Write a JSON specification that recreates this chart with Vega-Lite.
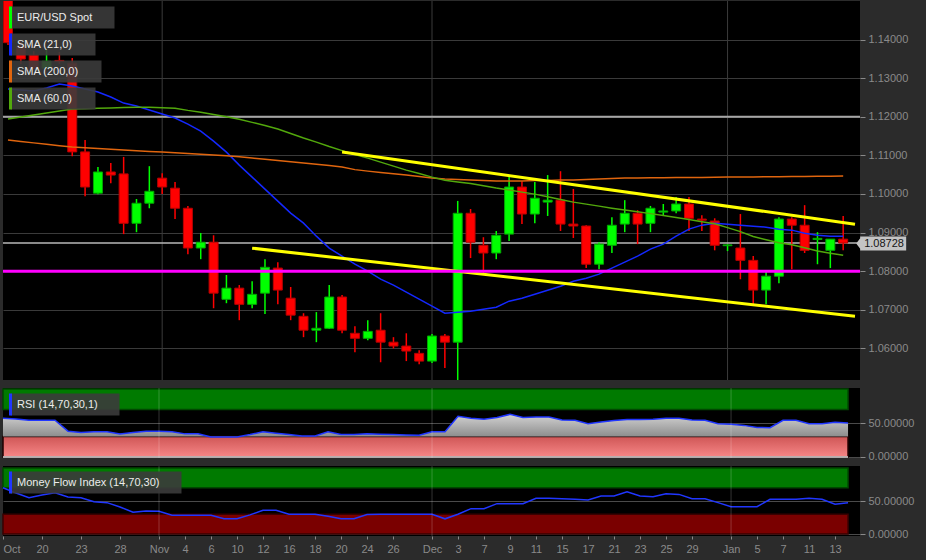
{
  "$schema": "https://vega.github.io/schema/vega-lite/v6.json",
  "background": "#2b2b2b",
  "padding": {"left": 0, "top": 0, "right": 15, "bottom": 7},
  "spacing": 8,
  "bounds": "flush",
  "config": {
    "font": "Liberation Sans",
    "view": {"stroke": null, "fill": "#000000"},
    "axis": {"title": null, "domain": false, "labelFont": "Liberation Sans", "labelFontSize": 11, "labelColor": "#8a8a8a", "tickColor": "#8a8a8a", "tickSize": 5, "labelPadding": 3, "gridColor": "#3a3a3a", "gridWidth": 1},
    "legend": {"orient": "none", "title": null, "padding": 0, "labelFont": "Liberation Sans", "labelFontSize": 11, "labelColor": "#ececec", "labelLimit": 400, "symbolSize": 64, "symbolStrokeWidth": 3, "symbolDash": [22, 3000], "labelOffset": -3, "rowPadding": 2}
  },
  "resolve": {"scale": {"color": "independent", "y": "independent"}, "legend": {"color": "independent"}},
  "datasets": {
    "months": [{"m": "Nov", "i": 12}, {"m": "Dec", "i": 33}, {"m": "Jan", "i": 56}],
    "levels": [{"kind": "resistance", "level": 1.12}, {"kind": "support", "level": 1.08}],
    "trend": [{"line": "upper", "i": 26, "v": 1.11085}, {"line": "upper", "i": 65.92, "v": 1.09218}, {"line": "lower", "i": 19, "v": 1.08596}, {"line": "lower", "i": 65.92, "v": 1.06833}],
    "bands": [{"zone": "over", "lo": 70, "hi": 100, "from": 0, "to": 65}, {"zone": "under", "lo": 0, "hi": 30, "from": 0, "to": 65}],
    "bars": [
      {"i":0,"o":1.1525,"h":1.155,"l":1.1386,"c":1.1392,"SMA (21,0)":1.12718,"SMA (200,0)":1.11396,"SMA (60,0)":1.11941,"rsi":57,"mfi":70},
      {"i":1,"o":1.13833,"h":1.13963,"l":1.13367,"c":1.13496,"SMA (21,0)":1.12692,"SMA (200,0)":1.1136,"SMA (60,0)":1.11992,"rsi":56,"mfi":62},
      {"i":2,"o":1.136,"h":1.137,"l":1.1324,"c":1.1326,"SMA (21,0)":1.12667,"SMA (200,0)":1.11324,"SMA (60,0)":1.12044,"rsi":54,"mfi":55},
      {"i":3,"o":1.1326,"h":1.1376,"l":1.1324,"c":1.1344,"SMA (21,0)":1.12744,"SMA (200,0)":1.11287,"SMA (60,0)":1.12096,"rsi":54,"mfi":59},
      {"i":4,"o":1.1346,"h":1.1368,"l":1.1337,"c":1.1343,"SMA (21,0)":1.12848,"SMA (200,0)":1.11251,"SMA (60,0)":1.12148,"rsi":54,"mfi":62.5},
      {"i":5,"o":1.1339,"h":1.1352,"l":1.1098,"c":1.1109,"SMA (21,0)":1.12796,"SMA (200,0)":1.11215,"SMA (60,0)":1.122,"rsi":38,"mfi":56},
      {"i":6,"o":1.1109,"h":1.114,"l":1.0994,"c":1.1018,"SMA (21,0)":1.12718,"SMA (200,0)":1.11197,"SMA (60,0)":1.12208,"rsi":36,"mfi":55},
      {"i":7,"o":1.1002,"h":1.107,"l":1.0999,"c":1.1057,"SMA (21,0)":1.12641,"SMA (200,0)":1.11178,"SMA (60,0)":1.12218,"rsi":37,"mfi":49},
      {"i":8,"o":1.1057,"h":1.108,"l":1.1028,"c":1.1049,"SMA (21,0)":1.12511,"SMA (200,0)":1.1116,"SMA (60,0)":1.12228,"rsi":37,"mfi":47.5},
      {"i":9,"o":1.1052,"h":1.1096,"l":1.0896,"c":1.0924,"SMA (21,0)":1.12355,"SMA (200,0)":1.1114,"SMA (60,0)":1.12239,"rsi":34,"mfi":41},
      {"i":10,"o":1.0924,"h":1.0987,"l":1.0901,"c":1.0976,"SMA (21,0)":1.12278,"SMA (200,0)":1.11121,"SMA (60,0)":1.12249,"rsi":36,"mfi":33},
      {"i":11,"o":1.0976,"h":1.1072,"l":1.0963,"c":1.1007,"SMA (21,0)":1.12174,"SMA (200,0)":1.11103,"SMA (60,0)":1.12244,"rsi":38,"mfi":35},
      {"i":12,"o":1.1041,"h":1.1054,"l":1.1,"c":1.1018,"SMA (21,0)":1.1207,"SMA (200,0)":1.11085,"SMA (60,0)":1.12234,"rsi":38,"mfi":34.5},
      {"i":13,"o":1.1015,"h":1.1031,"l":1.0935,"c":1.0963,"SMA (21,0)":1.11967,"SMA (200,0)":1.11067,"SMA (60,0)":1.12223,"rsi":37,"mfi":28.3},
      {"i":14,"o":1.0963,"h":1.0969,"l":1.0844,"c":1.086,"SMA (21,0)":1.11811,"SMA (200,0)":1.11046,"SMA (60,0)":1.12166,"rsi":34,"mfi":28.3},
      {"i":15,"o":1.086,"h":1.0899,"l":1.0831,"c":1.0875,"SMA (21,0)":1.11629,"SMA (200,0)":1.11028,"SMA (60,0)":1.12117,"rsi":34,"mfi":28.3},
      {"i":16,"o":1.0875,"h":1.0893,"l":1.0704,"c":1.0743,"SMA (21,0)":1.1137,"SMA (200,0)":1.1101,"SMA (60,0)":1.12057,"rsi":29.5,"mfi":28.3},
      {"i":17,"o":1.0727,"h":1.079,"l":1.0717,"c":1.0756,"SMA (21,0)":1.11085,"SMA (200,0)":1.10989,"SMA (60,0)":1.11998,"rsi":29.5,"mfi":23},
      {"i":18,"o":1.0756,"h":1.0764,"l":1.0673,"c":1.0714,"SMA (21,0)":1.10748,"SMA (200,0)":1.10963,"SMA (60,0)":1.11935,"rsi":29.5,"mfi":23},
      {"i":19,"o":1.0714,"h":1.0774,"l":1.0704,"c":1.074,"SMA (21,0)":1.10437,"SMA (200,0)":1.10932,"SMA (60,0)":1.11855,"rsi":33,"mfi":29},
      {"i":20,"o":1.0743,"h":1.0831,"l":1.0689,"c":1.081,"SMA (21,0)":1.10126,"SMA (200,0)":1.10898,"SMA (60,0)":1.11775,"rsi":37,"mfi":36},
      {"i":21,"o":1.0808,"h":1.0823,"l":1.0714,"c":1.0751,"SMA (21,0)":1.09815,"SMA (200,0)":1.10867,"SMA (60,0)":1.11684,"rsi":35,"mfi":36},
      {"i":22,"o":1.073,"h":1.0759,"l":1.0673,"c":1.0686,"SMA (21,0)":1.09503,"SMA (200,0)":1.10836,"SMA (60,0)":1.11567,"rsi":33,"mfi":30},
      {"i":23,"o":1.0683,"h":1.0691,"l":1.0629,"c":1.0647,"SMA (21,0)":1.09244,"SMA (200,0)":1.10802,"SMA (60,0)":1.11451,"rsi":31,"mfi":30},
      {"i":24,"o":1.0647,"h":1.0694,"l":1.0616,"c":1.0652,"SMA (21,0)":1.08907,"SMA (200,0)":1.10769,"SMA (60,0)":1.11344,"rsi":31,"mfi":30},
      {"i":25,"o":1.0652,"h":1.0764,"l":1.065,"c":1.0733,"SMA (21,0)":1.08596,"SMA (200,0)":1.10735,"SMA (60,0)":1.11228,"rsi":37,"mfi":27},
      {"i":26,"o":1.0733,"h":1.0738,"l":1.0639,"c":1.0647,"SMA (21,0)":1.08389,"SMA (200,0)":1.10696,"SMA (60,0)":1.11124,"rsi":33,"mfi":23},
      {"i":27,"o":1.0639,"h":1.0657,"l":1.059,"c":1.0626,"SMA (21,0)":1.08181,"SMA (200,0)":1.10631,"SMA (60,0)":1.11025,"rsi":33,"mfi":23},
      {"i":28,"o":1.0626,"h":1.0673,"l":1.0621,"c":1.0644,"SMA (21,0)":1.08,"SMA (200,0)":1.10592,"SMA (60,0)":1.10929,"rsi":34,"mfi":29.5},
      {"i":29,"o":1.0647,"h":1.0691,"l":1.0564,"c":1.0616,"SMA (21,0)":1.07792,"SMA (200,0)":1.10559,"SMA (60,0)":1.10826,"rsi":33.5,"mfi":30},
      {"i":30,"o":1.0616,"h":1.0629,"l":1.06,"c":1.0606,"SMA (21,0)":1.07637,"SMA (200,0)":1.10522,"SMA (60,0)":1.10722,"rsi":33,"mfi":30},
      {"i":31,"o":1.0606,"h":1.0639,"l":1.0567,"c":1.0593,"SMA (21,0)":1.07455,"SMA (200,0)":1.10489,"SMA (60,0)":1.10618,"rsi":32.5,"mfi":30},
      {"i":32,"o":1.0587,"h":1.0595,"l":1.0559,"c":1.0567,"SMA (21,0)":1.07274,"SMA (200,0)":1.10452,"SMA (60,0)":1.10528,"rsi":32,"mfi":30},
      {"i":33,"o":1.0567,"h":1.0637,"l":1.0562,"c":1.0632,"SMA (21,0)":1.07092,"SMA (200,0)":1.10416,"SMA (60,0)":1.10437,"rsi":37,"mfi":30},
      {"i":34,"o":1.0632,"h":1.0637,"l":1.0549,"c":1.0616,"SMA (21,0)":1.06911,"SMA (200,0)":1.10385,"SMA (60,0)":1.10354,"rsi":37,"mfi":23},
      {"i":35,"o":1.0616,"h":1.0982,"l":1.0515,"c":1.095,"SMA (21,0)":1.06937,"SMA (200,0)":1.10372,"SMA (60,0)":1.10312,"rsi":60,"mfi":30},
      {"i":36,"o":1.095,"h":1.0961,"l":1.0834,"c":1.0875,"SMA (21,0)":1.06963,"SMA (200,0)":1.10359,"SMA (60,0)":1.10271,"rsi":57,"mfi":38.4},
      {"i":37,"o":1.0867,"h":1.0888,"l":1.0795,"c":1.0847,"SMA (21,0)":1.07014,"SMA (200,0)":1.10346,"SMA (60,0)":1.10216,"rsi":55.5,"mfi":38.4},
      {"i":38,"o":1.0847,"h":1.0904,"l":1.0831,"c":1.0893,"SMA (21,0)":1.07066,"SMA (200,0)":1.10333,"SMA (60,0)":1.10154,"rsi":58,"mfi":46},
      {"i":39,"o":1.0896,"h":1.1046,"l":1.0878,"c":1.1018,"SMA (21,0)":1.07222,"SMA (200,0)":1.10333,"SMA (60,0)":1.101,"rsi":62.7,"mfi":46},
      {"i":40,"o":1.1018,"h":1.1033,"l":1.0922,"c":1.0948,"SMA (21,0)":1.073,"SMA (200,0)":1.10338,"SMA (60,0)":1.10048,"rsi":58,"mfi":46},
      {"i":41,"o":1.0948,"h":1.1031,"l":1.0924,"c":1.0989,"SMA (21,0)":1.07403,"SMA (200,0)":1.10346,"SMA (60,0)":1.09996,"rsi":59,"mfi":54},
      {"i":42,"o":1.0979,"h":1.1049,"l":1.0943,"c":1.0984,"SMA (21,0)":1.07507,"SMA (200,0)":1.10351,"SMA (60,0)":1.09926,"rsi":58.8,"mfi":54},
      {"i":43,"o":1.0984,"h":1.1059,"l":1.0904,"c":1.0922,"SMA (21,0)":1.07611,"SMA (200,0)":1.10359,"SMA (60,0)":1.09856,"rsi":54.5,"mfi":53.5},
      {"i":44,"o":1.0922,"h":1.1013,"l":1.0886,"c":1.0917,"SMA (21,0)":1.0774,"SMA (200,0)":1.10364,"SMA (60,0)":1.09789,"rsi":54,"mfi":52.5},
      {"i":45,"o":1.0917,"h":1.0919,"l":1.0808,"c":1.0818,"SMA (21,0)":1.07818,"SMA (200,0)":1.10375,"SMA (60,0)":1.09737,"rsi":49,"mfi":51.5},
      {"i":46,"o":1.0818,"h":1.0875,"l":1.0805,"c":1.087,"SMA (21,0)":1.07922,"SMA (200,0)":1.10385,"SMA (60,0)":1.09685,"rsi":51.5,"mfi":57.6},
      {"i":47,"o":1.0867,"h":1.094,"l":1.0847,"c":1.0919,"SMA (21,0)":1.08077,"SMA (200,0)":1.10398,"SMA (60,0)":1.09633,"rsi":53.5,"mfi":57.6},
      {"i":48,"o":1.0922,"h":1.0984,"l":1.0901,"c":1.095,"SMA (21,0)":1.08233,"SMA (200,0)":1.10411,"SMA (60,0)":1.09587,"rsi":55,"mfi":64},
      {"i":49,"o":1.095,"h":1.0958,"l":1.087,"c":1.0922,"SMA (21,0)":1.08389,"SMA (200,0)":1.10416,"SMA (60,0)":1.0954,"rsi":55,"mfi":57.6},
      {"i":50,"o":1.0924,"h":1.0969,"l":1.0901,"c":1.0963,"SMA (21,0)":1.0857,"SMA (200,0)":1.10419,"SMA (60,0)":1.09491,"rsi":55.5,"mfi":56.6},
      {"i":51,"o":1.0953,"h":1.0974,"l":1.0945,"c":1.0956,"SMA (21,0)":1.087,"SMA (200,0)":1.10421,"SMA (60,0)":1.09441,"rsi":57,"mfi":61},
      {"i":52,"o":1.0956,"h":1.0992,"l":1.095,"c":1.0974,"SMA (21,0)":1.08907,"SMA (200,0)":1.10424,"SMA (60,0)":1.0939,"rsi":57,"mfi":60},
      {"i":53,"o":1.0974,"h":1.0992,"l":1.0904,"c":1.0937,"SMA (21,0)":1.09089,"SMA (200,0)":1.10426,"SMA (60,0)":1.0934,"rsi":54.5,"mfi":53.5},
      {"i":54,"o":1.0935,"h":1.0945,"l":1.0904,"c":1.0932,"SMA (21,0)":1.09192,"SMA (200,0)":1.10429,"SMA (60,0)":1.09283,"rsi":54,"mfi":53.5},
      {"i":55,"o":1.093,"h":1.0937,"l":1.0854,"c":1.0867,"SMA (21,0)":1.09244,"SMA (200,0)":1.10432,"SMA (60,0)":1.09226,"rsi":49,"mfi":47.5},
      {"i":56,"o":1.0866,"h":1.087,"l":1.0852,"c":1.0868,"SMA (21,0)":1.09218,"SMA (200,0)":1.10437,"SMA (60,0)":1.09128,"rsi":48,"mfi":41.4},
      {"i":57,"o":1.086,"h":1.0948,"l":1.0779,"c":1.0828,"SMA (21,0)":1.09192,"SMA (200,0)":1.10439,"SMA (60,0)":1.09024,"rsi":46.5,"mfi":41.4},
      {"i":58,"o":1.0828,"h":1.0839,"l":1.0714,"c":1.0751,"SMA (21,0)":1.09166,"SMA (200,0)":1.10442,"SMA (60,0)":1.08899,"rsi":43.5,"mfi":41.4},
      {"i":59,"o":1.0751,"h":1.08,"l":1.0714,"c":1.0787,"SMA (21,0)":1.0914,"SMA (200,0)":1.10445,"SMA (60,0)":1.08816,"rsi":43,"mfi":52.5},
      {"i":60,"o":1.0787,"h":1.094,"l":1.0769,"c":1.0935,"SMA (21,0)":1.09089,"SMA (200,0)":1.10447,"SMA (60,0)":1.08739,"rsi":54,"mfi":52.5},
      {"i":61,"o":1.0935,"h":1.094,"l":1.0805,"c":1.0919,"SMA (21,0)":1.09063,"SMA (200,0)":1.1045,"SMA (60,0)":1.08682,"rsi":54,"mfi":52.5},
      {"i":62,"o":1.0919,"h":1.0971,"l":1.0847,"c":1.0854,"SMA (21,0)":1.08985,"SMA (200,0)":1.10455,"SMA (60,0)":1.08609,"rsi":49,"mfi":54},
      {"i":63,"o":1.0882,"h":1.0901,"l":1.0818,"c":1.0885,"SMA (21,0)":1.08933,"SMA (200,0)":1.10458,"SMA (60,0)":1.08524,"rsi":49,"mfi":52.5},
      {"i":64,"o":1.0854,"h":1.0883,"l":1.0808,"c":1.0883,"SMA (21,0)":1.08907,"SMA (200,0)":1.1046,"SMA (60,0)":1.08466,"rsi":51,"mfi":45},
      {"i":65,"o":1.0883,"h":1.0943,"l":1.0854,"c":1.08728,"SMA (21,0)":1.08907,"SMA (200,0)":1.10463,"SMA (60,0)":1.08414,"rsi":50,"mfi":47.5}
    ]
  },
  "vconcat": [
    {
      "width": 857, "height": 379,
      "layer": [
        {"data": {"name": "months"}, "mark": {"type": "rule", "color": "#3a3a3a", "strokeWidth": 1},
         "encoding": {"x": {"field": "i", "type": "quantitative", "scale": {"domain": [0, 65.92], "nice": false, "zero": false}, "axis": null}}},
        {"data": {"name": "levels"}, "transform": [{"filter": "datum.kind == 'resistance'"}], "mark": {"type": "rule", "color": "#a6a6a6", "strokeWidth": 2},
         "encoding": {"y": {"field": "level", "type": "quantitative", "scale": {"domain": [1.0518, 1.15], "nice": false, "zero": false}, "axis": {"orient": "right", "values": [1.06, 1.07, 1.08, 1.09, 1.1, 1.11, 1.12, 1.13, 1.14], "format": ".5f", "grid": true}}}},
        {"data": {"name": "bars"}, "transform": [{"filter": "datum.i == 65"}], "mark": {"type": "rule", "color": "#b8b8b8", "strokeWidth": 1.5},
         "encoding": {"y": {"field": "c", "type": "quantitative", "scale": {"domain": [1.0518, 1.15], "nice": false, "zero": false}, "axis": {"orient": "right", "values": [1.06, 1.07, 1.08, 1.09, 1.1, 1.11, 1.12, 1.13, 1.14], "format": ".5f", "grid": true}}}},
        {"data": {"name": "bars"}, "mark": {"type": "rule", "strokeWidth": 1.5, "clip": true},
         "encoding": {
           "x": {"field": "i", "type": "quantitative", "scale": {"domain": [0, 65.92], "nice": false, "zero": false}, "axis": null},
           "y": {"field": "l", "type": "quantitative", "scale": {"domain": [1.0518, 1.15], "nice": false, "zero": false}, "axis": {"orient": "right", "values": [1.06, 1.07, 1.08, 1.09, 1.1, 1.11, 1.12, 1.13, 1.14], "format": ".5f", "grid": true}},
           "y2": {"field": "h"},
           "stroke": {"condition": {"test": "datum.c >= datum.o", "value": "#00ff00"}, "value": "#ff0000"}}},
        {"data": {"name": "bars"}, "mark": {"type": "bar", "width": 9, "strokeWidth": 1, "clip": true},
         "encoding": {
           "x": {"field": "i", "type": "quantitative", "scale": {"domain": [0, 65.92], "nice": false, "zero": false}, "axis": null},
           "y": {"field": "o", "type": "quantitative", "scale": {"domain": [1.0518, 1.15], "nice": false, "zero": false}, "axis": {"orient": "right", "values": [1.06, 1.07, 1.08, 1.09, 1.1, 1.11, 1.12, 1.13, 1.14], "format": ".5f", "grid": true}},
           "y2": {"field": "c"},
           "fill": {"condition": {"test": "datum.c >= datum.o", "value": "#00ff00"}, "value": "#ff0000"},
           "stroke": {"condition": {"test": "datum.c >= datum.o", "value": "#00a800"}, "value": "#b80000"}}},
        {"data": {"name": "bars"}, "transform": [{"fold": ["SMA (21,0)", "SMA (200,0)", "SMA (60,0)"], "as": ["key", "v"]}],
         "mark": {"type": "line", "strokeWidth": 1.5, "clip": true},
         "encoding": {
           "x": {"field": "i", "type": "quantitative", "scale": {"domain": [0, 65.92], "nice": false, "zero": false}, "axis": null},
           "y": {"field": "v", "type": "quantitative", "scale": {"domain": [1.0518, 1.15], "nice": false, "zero": false}, "axis": {"orient": "right", "values": [1.06, 1.07, 1.08, 1.09, 1.1, 1.11, 1.12, 1.13, 1.14], "format": ".5f", "grid": true}},
           "color": {"field": "key", "type": "nominal",
                     "scale": {"domain": ["EUR/USD Spot", "SMA (21,0)", "SMA (200,0)", "SMA (60,0)"], "range": ["#00ff00", "#1428ff", "#e0650e", "#52a80c"]},
                     "legend": {"legendX": 6, "legendY": 11, "symbolType": "M-1,2.75V-2.75H20.25V2.75Z",
                                "encode": {"symbols": {"update": {"fill": {"value": "#3b3b3b"}, "fillOpacity": {"value": 0.9}, "strokeJoin": {"value": "bevel"},
                                  "shape": {"signal": "datum.value == 'EUR/USD Spot' ? 'M-1,2.75V-2.75H25V2.75Z' : (datum.value == 'SMA (200,0)' ? 'M-1,2.75V-2.75H21.75V2.75Z' : 'M-1,2.75V-2.75H20.25V2.75Z')"}}}}}}}},
        {"data": {"name": "trend"}, "mark": {"type": "line", "color": "#ffff00", "strokeWidth": 3, "clip": true},
         "encoding": {
           "x": {"field": "i", "type": "quantitative", "scale": {"domain": [0, 65.92], "nice": false, "zero": false}, "axis": null},
           "y": {"field": "v", "type": "quantitative", "scale": {"domain": [1.0518, 1.15], "nice": false, "zero": false}, "axis": {"orient": "right", "values": [1.06, 1.07, 1.08, 1.09, 1.1, 1.11, 1.12, 1.13, 1.14], "format": ".5f", "grid": true}},
           "detail": {"field": "line"}}},
        {"data": {"name": "levels"}, "transform": [{"filter": "datum.kind == 'support'"}], "mark": {"type": "rule", "color": "#ff00ff", "strokeWidth": 3},
         "encoding": {"y": {"field": "level", "type": "quantitative", "scale": {"domain": [1.0518, 1.15], "nice": false, "zero": false}, "axis": {"orient": "right", "values": [1.06, 1.07, 1.08, 1.09, 1.1, 1.11, 1.12, 1.13, 1.14], "format": ".5f", "grid": true}}}},
        {"data": {"name": "bars"}, "transform": [{"filter": "datum.i == 65"}],
         "mark": {"type": "point", "shape": "M1.86,0.07L2.43,-0.68V-0.93H9V1.07H2.43V0.82Z", "size": 196, "filled": true, "color": "#c4c4c4", "opacity": 1},
         "encoding": {
           "x": {"field": "i", "type": "quantitative", "scale": {"domain": [0, 65.92], "nice": false, "zero": false}, "axis": null},
           "y": {"field": "c", "type": "quantitative", "scale": {"domain": [1.0518, 1.15], "nice": false, "zero": false}, "axis": {"orient": "right", "values": [1.06, 1.07, 1.08, 1.09, 1.1, 1.11, 1.12, 1.13, 1.14], "format": ".5f", "grid": true}}}},
        {"data": {"name": "bars"}, "transform": [{"filter": "datum.i == 65"}],
         "mark": {"type": "text", "align": "left", "baseline": "middle", "dx": 21, "dy": 1, "fontSize": 11, "color": "#151515", "font": "Liberation Sans"},
         "encoding": {
           "x": {"field": "i", "type": "quantitative", "scale": {"domain": [0, 65.92], "nice": false, "zero": false}, "axis": null},
           "y": {"field": "c", "type": "quantitative", "scale": {"domain": [1.0518, 1.15], "nice": false, "zero": false}, "axis": {"orient": "right", "values": [1.06, 1.07, 1.08, 1.09, 1.1, 1.11, 1.12, 1.13, 1.14], "format": ".5f", "grid": true}},
           "text": {"field": "c", "type": "quantitative", "format": ".5f"}}}
      ]
    },
    {
      "width": 857, "height": 70,
      "layer": [
        {"data": {"name": "bands"}, "transform": [{"filter": "datum.zone == 'over'"}], "mark": {"type": "rect", "color": "#007a00", "stroke": "#004800", "strokeWidth": 1.5},
         "encoding": {
           "x": {"field": "from", "type": "quantitative", "scale": {"domain": [0, 65.92], "nice": false, "zero": false}, "axis": null},
           "x2": {"field": "to"},
           "y": {"field": "lo", "type": "quantitative", "scale": {"domain": [-1.5, 101.5], "nice": false, "zero": false}, "axis": {"orient": "right", "values": [0, 50], "format": ".5f", "grid": true, "gridColor": "#4a4a4a"}},
           "y2": {"field": "hi"}}},
        {"data": {"name": "bands"}, "transform": [{"filter": "datum.zone == 'under'"}],
         "mark": {"type": "rect", "stroke": "#200000", "strokeWidth": 1.5,
                  "color": {"gradient": "linear", "x1": 0, "y1": 0, "x2": 0, "y2": 1, "stops": [{"offset": 0, "color": "#cf5656"}, {"offset": 1, "color": "#f78787"}]}},
         "encoding": {
           "x": {"field": "from", "type": "quantitative", "scale": {"domain": [0, 65.92], "nice": false, "zero": false}, "axis": null},
           "x2": {"field": "to"},
           "y": {"field": "lo", "type": "quantitative", "scale": {"domain": [-1.5, 101.5], "nice": false, "zero": false}, "axis": {"orient": "right", "values": [0, 50], "format": ".5f", "grid": true, "gridColor": "#4a4a4a"}},
           "y2": {"field": "hi"}}},
        {"data": {"name": "bands"}, "transform": [{"filter": "datum.zone == 'under'"}], "mark": {"type": "rule", "color": "#dedede", "strokeWidth": 1.5},
         "encoding": {
           "x": {"field": "from", "type": "quantitative", "scale": {"domain": [0, 65.92], "nice": false, "zero": false}, "axis": null},
           "x2": {"field": "to"},
           "y": {"field": "lo", "type": "quantitative", "scale": {"domain": [-1.5, 101.5], "nice": false, "zero": false}, "axis": {"orient": "right", "values": [0, 50], "format": ".5f", "grid": true, "gridColor": "#4a4a4a"}}}},
        {"data": {"name": "bars"},
         "mark": {"type": "area", "opacity": 1, "color": {"gradient": "linear", "x1": 0, "y1": 0, "x2": 0, "y2": 1, "stops": [{"offset": 0, "color": "#d2d2d2"}, {"offset": 1, "color": "#8c8c8c"}]}},
         "encoding": {
           "x": {"field": "i", "type": "quantitative", "scale": {"domain": [0, 65.92], "nice": false, "zero": false}, "axis": null},
           "y": {"field": "rsi", "type": "quantitative", "scale": {"domain": [-1.5, 101.5], "nice": false, "zero": false}, "axis": {"orient": "right", "values": [0, 50], "format": ".5f", "grid": true, "gridColor": "#4a4a4a"}},
           "y2": {"datum": 30}}},
        {"data": {"name": "bars"}, "mark": {"type": "line", "strokeWidth": 1.5},
         "encoding": {
           "x": {"field": "i", "type": "quantitative", "scale": {"domain": [0, 65.92], "nice": false, "zero": false}, "axis": null},
           "y": {"field": "rsi", "type": "quantitative", "scale": {"domain": [-1.5, 101.5], "nice": false, "zero": false}, "axis": {"orient": "right", "values": [0, 50], "format": ".5f", "grid": true, "gridColor": "#4a4a4a"}},
           "color": {"datum": "RSI (14,70,30,1)", "scale": {"range": ["#2036ff"]},
                     "legend": {"legendX": 6, "legendY": 11, "symbolType": "M-1,2.75V-2.75H26.25V2.75Z",
                                "encode": {"symbols": {"update": {"fill": {"value": "#3b3b3b"}, "fillOpacity": {"value": 0.9}, "stroke": {"value": "#000000"}, "strokeJoin": {"value": "bevel"}}}}}}}},
        {"data": {"name": "months"}, "mark": {"type": "rule", "color": "#ffffff", "opacity": 0.2},
         "encoding": {"x": {"field": "i", "type": "quantitative", "scale": {"domain": [0, 65.92], "nice": false, "zero": false}, "axis": null}}}
      ]
    },
    {
      "width": 857, "height": 70,
      "layer": [
        {"data": {"name": "bands"}, "transform": [{"filter": "datum.zone == 'over'"}], "mark": {"type": "rect", "color": "#007a00", "stroke": "#004800", "strokeWidth": 1.5},
         "encoding": {
           "x": {"field": "from", "type": "quantitative", "scale": {"domain": [0, 65.92], "nice": false, "zero": false},
                 "axis": {"orient": "bottom", "values": [0,3,6,9,12,14,16,18,20,22,24,26,28,30,33,35,37,39,41,43,45,47,49,51,53,56,58,60,62,64], "labelExpr": "['Oct','20','23','28','Nov','4','6','10','12','16','18','20','24','26','Dec','3','7','9','11','15','17','21','23','25','29','Jan','5','7','11','13'][indexof([0,3,6,9,12,14,16,18,20,22,24,26,28,30,33,35,37,39,41,43,45,47,49,51,53,56,58,60,62,64], datum.value)]", "tickSize": 3, "labelPadding": 4, "labelFlush": true, "grid": false}},
           "x2": {"field": "to"},
           "y": {"field": "lo", "type": "quantitative", "scale": {"domain": [-3, 103], "nice": false, "zero": false}, "axis": {"orient": "right", "values": [0, 50], "format": ".5f", "grid": true, "gridColor": "#4a4a4a"}},
           "y2": {"field": "hi"}}},
        {"data": {"name": "bands"}, "transform": [{"filter": "datum.zone == 'under'"}], "mark": {"type": "rect", "color": "#7a0000", "stroke": "#3a0000", "strokeWidth": 1.5},
         "encoding": {
           "x": {"field": "from", "type": "quantitative", "scale": {"domain": [0, 65.92], "nice": false, "zero": false},
                 "axis": {"orient": "bottom", "values": [0,3,6,9,12,14,16,18,20,22,24,26,28,30,33,35,37,39,41,43,45,47,49,51,53,56,58,60,62,64], "labelExpr": "['Oct','20','23','28','Nov','4','6','10','12','16','18','20','24','26','Dec','3','7','9','11','15','17','21','23','25','29','Jan','5','7','11','13'][indexof([0,3,6,9,12,14,16,18,20,22,24,26,28,30,33,35,37,39,41,43,45,47,49,51,53,56,58,60,62,64], datum.value)]", "tickSize": 3, "labelPadding": 4, "labelFlush": true, "grid": false}},
           "x2": {"field": "to"},
           "y": {"field": "lo", "type": "quantitative", "scale": {"domain": [-3, 103], "nice": false, "zero": false}, "axis": {"orient": "right", "values": [0, 50], "format": ".5f", "grid": true, "gridColor": "#4a4a4a"}},
           "y2": {"field": "hi"}}},
        {"data": {"name": "bars"}, "mark": {"type": "line", "strokeWidth": 1.5},
         "encoding": {
           "x": {"field": "i", "type": "quantitative", "scale": {"domain": [0, 65.92], "nice": false, "zero": false},
                 "axis": {"orient": "bottom", "values": [0,3,6,9,12,14,16,18,20,22,24,26,28,30,33,35,37,39,41,43,45,47,49,51,53,56,58,60,62,64], "labelExpr": "['Oct','20','23','28','Nov','4','6','10','12','16','18','20','24','26','Dec','3','7','9','11','15','17','21','23','25','29','Jan','5','7','11','13'][indexof([0,3,6,9,12,14,16,18,20,22,24,26,28,30,33,35,37,39,41,43,45,47,49,51,53,56,58,60,62,64], datum.value)]", "tickSize": 3, "labelPadding": 4, "labelFlush": true, "grid": false}},
           "y": {"field": "mfi", "type": "quantitative", "scale": {"domain": [-3, 103], "nice": false, "zero": false}, "axis": {"orient": "right", "values": [0, 50], "format": ".5f", "grid": true, "gridColor": "#4a4a4a"}},
           "color": {"datum": "Money Flow Index (14,70,30)", "scale": {"range": ["#2036ff"]},
                     "legend": {"legendX": 6, "legendY": 11, "symbolType": "M-1,2.75V-2.75H41.75V2.75Z",
                                "encode": {"symbols": {"update": {"fill": {"value": "#3b3b3b"}, "fillOpacity": {"value": 0.9}, "stroke": {"value": "#00ff00"}, "strokeJoin": {"value": "bevel"}}}}}}}},
        {"data": {"name": "months"}, "mark": {"type": "rule", "color": "#ffffff", "opacity": 0.2},
         "encoding": {"x": {"field": "i", "type": "quantitative", "scale": {"domain": [0, 65.92], "nice": false, "zero": false},
                 "axis": {"orient": "bottom", "values": [0,3,6,9,12,14,16,18,20,22,24,26,28,30,33,35,37,39,41,43,45,47,49,51,53,56,58,60,62,64], "labelExpr": "['Oct','20','23','28','Nov','4','6','10','12','16','18','20','24','26','Dec','3','7','9','11','15','17','21','23','25','29','Jan','5','7','11','13'][indexof([0,3,6,9,12,14,16,18,20,22,24,26,28,30,33,35,37,39,41,43,45,47,49,51,53,56,58,60,62,64], datum.value)]", "tickSize": 3, "labelPadding": 4, "labelFlush": true, "grid": false}}}}
      ]
    }
  ]
}
